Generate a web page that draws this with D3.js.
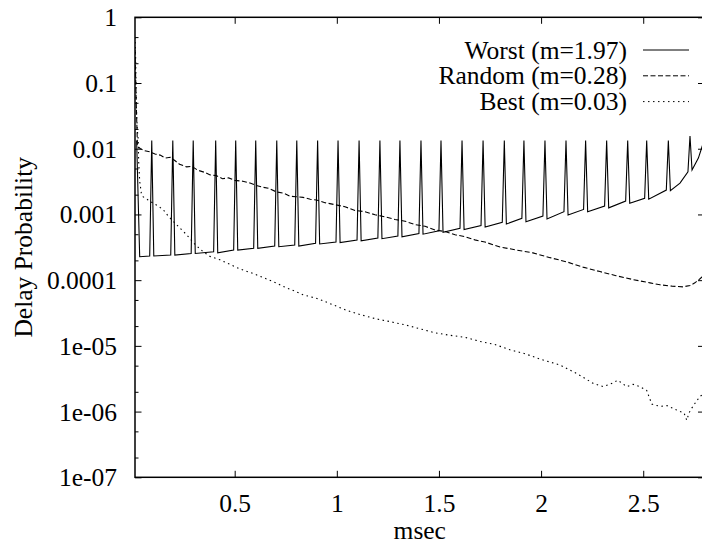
<!DOCTYPE html>
<html>
<head>
<meta charset="utf-8">
<script src="https://cdn.jsdelivr.net/npm/d3@7"></script>
<style>
  body { margin: 0; background: #fff; }
  text { font-family: "Liberation Serif", "Times New Roman", serif; font-size: 25.5px; fill: #000; }
</style>
</head>
<body>
<svg class="chart-svg"></svg>
<script>
const WIDTH = 702;
const HEIGHT = 544;
const PLOT = { left: 135, top: 17.3, right: 704.5, bottom: 477.3 };
const FONT = '"Liberation Serif", "Times New Roman", serif';

const X_DOMAIN = [0.012, 2.8];
const Y_DOMAIN = [1e-7, 1];
const xTicks = [0.5, 1, 1.5, 2, 2.5];
const yTicks = [1, 0.1, 0.01, 0.001, 0.0001, 1e-5, 1e-6, 1e-7];
const yTickLabels = ["1", "0.1", "0.01", "0.001", "0.0001", "1e-05", "1e-06", "1e-07"];
const yMinorTicks = [
  0.5, 0.2, 0.05, 0.02, 0.005, 0.002, 5e-4, 2e-4,
  5e-5, 2e-5, 5e-6, 2e-6, 5e-7, 2e-7
];
const legendLabels = ["Worst (m=1.97)", "Random (m=0.28)", "Best (m=0.03)"];
const dashes = [null, "5,2.5", "1.5,3.5"];

// [msec, probability]
const worst = [
  [0.020, 0.0133], [0.035, 2.27e-4], [0.084, 2.33e-4], [0.094, 0.0133],
  [0.104, 2.33e-4], [0.187, 2.41e-4], [0.197, 0.0133],
  [0.207, 2.41e-4], [0.287, 2.55e-4], [0.297, 0.0133],
  [0.307, 2.55e-4], [0.397, 2.71e-4], [0.407, 0.0133],
  [0.417, 2.61e-4], [0.495, 2.87e-4], [0.505, 0.0133],
  [0.515, 2.87e-4], [0.593, 3.05e-4], [0.603, 0.0133],
  [0.613, 3.05e-4], [0.696, 3.30e-4], [0.706, 0.0133],
  [0.716, 3.23e-4], [0.794, 3.42e-4], [0.804, 0.0133],
  [0.814, 3.30e-4], [0.896, 3.63e-4], [0.906, 0.0133],
  [0.916, 3.55e-4], [0.996, 3.80e-4], [1.006, 0.0133],
  [1.016, 3.72e-4], [1.099, 4.07e-4], [1.109, 0.0133],
  [1.119, 3.98e-4], [1.201, 4.37e-4], [1.211, 0.0133],
  [1.221, 4.27e-4], [1.299, 4.68e-4], [1.309, 0.0133],
  [1.319, 4.57e-4], [1.402, 5.13e-4], [1.412, 0.0133],
  [1.422, 5.01e-4], [1.500, 5.62e-4], [1.510, 0.0133],
  [1.520, 5.37e-4], [1.603, 6.17e-4], [1.613, 0.0133],
  [1.623, 5.89e-4], [1.706, 6.76e-4], [1.716, 0.0133],
  [1.726, 6.46e-4], [1.810, 7.59e-4], [1.820, 0.0133],
  [1.830, 7.14e-4], [1.906, 8.71e-4], [1.916, 0.0133],
  [1.926, 7.74e-4], [2.009, 9.46e-4], [2.019, 0.0133],
  [2.029, 8.51e-4], [2.112, 1.10e-3], [2.122, 0.0133],
  [2.132, 9.79e-4], [2.208, 1.19e-3], [2.218, 0.0133],
  [2.228, 1.10e-3], [2.311, 1.34e-3], [2.321, 0.0133],
  [2.331, 1.26e-3], [2.414, 1.60e-3], [2.424, 0.0133],
  [2.434, 1.48e-3], [2.507, 1.76e-3], [2.517, 0.0133],
  [2.527, 1.71e-3], [2.613, 2.35e-3], [2.623, 0.0133],
  [2.633, 2.30e-3], [2.680, 3.0e-3], [2.719, 4.47e-3], [2.729, 0.0156],
  [2.739, 4.74e-3], [2.770, 7.2e-3], [2.800, 0.014]
];

const random = [
  [0.012, 0.32], [0.018, 0.05], [0.024, 0.011], [0.037, 0.0101], [0.060, 0.0093],
  [0.085, 0.0090], [0.110, 0.0083], [0.135, 0.0080], [0.160, 0.0072], [0.185, 0.0074],
  [0.210, 0.0065], [0.230, 0.0058], [0.265, 0.0053], [0.290, 0.0054], [0.320, 0.0047],
  [0.350, 0.0044], [0.380, 0.0040], [0.410, 0.0039], [0.440, 0.0035], [0.470, 0.0036],
  [0.500, 0.0033], [0.540, 0.0032], [0.575, 0.0030], [0.600, 0.0028], [0.635, 0.0026],
  [0.665, 0.0025], [0.705, 0.0022], [0.740, 0.0021], [0.770, 0.0019], [0.800, 0.00186],
  [0.835, 0.00182], [0.870, 0.0017], [0.900, 0.00166], [0.942, 0.00151], [0.991, 0.00141],
  [1.040, 0.00131], [1.089, 0.00115], [1.138, 0.00110], [1.187, 0.00099], [1.236, 0.00092],
  [1.285, 0.00084], [1.334, 0.00079], [1.383, 0.00070], [1.432, 0.00066], [1.481, 0.00058],
  [1.530, 0.00055], [1.579, 0.00049], [1.627, 0.00046], [1.676, 0.00041], [1.725, 0.00038],
  [1.799, 0.00032], [1.872, 0.00029], [1.960, 0.00026], [2.044, 0.00022], [2.125, 0.00019],
  [2.205, 0.000158], [2.288, 0.000135], [2.367, 0.000117], [2.450, 0.000102], [2.533, 0.000091],
  [2.582, 0.000085], [2.641, 0.000081], [2.695, 0.000079], [2.729, 0.000083], [2.753, 0.000091],
  [2.778, 0.000105], [2.800, 0.00012]
];

const best = [
  [0.012, 0.5], [0.015, 0.25], [0.017, 0.1], [0.019, 0.04], [0.023, 0.02],
  [0.028, 0.0135], [0.030, 0.0063], [0.035, 0.0032], [0.043, 0.0021], [0.051, 0.00186],
  [0.076, 0.00166], [0.102, 0.00148], [0.125, 0.00135], [0.151, 0.00117], [0.174, 0.00095],
  [0.200, 0.00078], [0.232, 0.00062], [0.265, 0.00049], [0.306, 0.00035], [0.346, 0.00027],
  [0.379, 0.00023], [0.428, 0.000204], [0.477, 0.000174], [0.526, 0.000148], [0.591, 0.000126],
  [0.648, 0.000107], [0.702, 0.000091], [0.755, 0.000076], [0.795, 0.000068], [0.834, 0.000060],
  [0.909, 0.000052], [0.967, 0.000044], [1.040, 0.0000355], [1.113, 0.000030], [1.187, 0.000026],
  [1.260, 0.0000234], [1.334, 0.0000209], [1.407, 0.0000182], [1.481, 0.0000158], [1.554, 0.0000145],
  [1.627, 0.0000135], [1.701, 0.0000117], [1.774, 0.0000105], [1.848, 0.0000087], [1.921, 0.0000076],
  [1.995, 0.0000063], [2.093, 0.0000051], [2.174, 0.0000038], [2.254, 0.0000027], [2.303, 0.0000024],
  [2.337, 0.0000026], [2.376, 0.0000030], [2.419, 0.0000024], [2.450, 0.0000026], [2.484, 0.0000024],
  [2.517, 0.0000021], [2.542, 0.0000013], [2.582, 0.0000012], [2.617, 0.00000123], [2.646, 0.00000112],
  [2.680, 0.0000010], [2.700, 0.00000095], [2.713, 0.00000074], [2.724, 0.00000095], [2.737, 0.00000112],
  [2.758, 0.0000014], [2.778, 0.0000017], [2.800, 0.0000019]
];

const series = [worst, random, best];

const svg = d3.select(".chart-svg")
  .attr("width", WIDTH)
  .attr("height", HEIGHT);

svg.append("rect")
  .attr("width", WIDTH)
  .attr("height", HEIGHT)
  .attr("fill", "#fff");

const xScale = d3.scaleLinear().domain(X_DOMAIN).range([PLOT.left, PLOT.right]);
const yScale = d3.scaleLog().domain(Y_DOMAIN).range([PLOT.bottom, PLOT.top]);

svg.append("defs")
  .append("clipPath")
  .attr("id", "plot-clip")
  .append("rect")
  .attr("x", PLOT.left)
  .attr("y", PLOT.top)
  .attr("width", PLOT.right - PLOT.left)
  .attr("height", PLOT.bottom - PLOT.top);

const styleAxis = g => {
  g.select(".domain").remove();
  g.selectAll(".tick line").attr("stroke", "#000").attr("stroke-width", 1);
  g.selectAll(".tick text")
    .attr("fill", "#000")
    .style("font-family", FONT)
    .style("font-size", "25.5px");
};

// bottom axis with labels
svg.append("g")
  .attr("transform", `translate(0, ${PLOT.bottom})`)
  .call(d3.axisBottom(xScale).tickValues(xTicks).tickSize(-6.5).tickPadding(17).tickFormat(d3.format("")))
  .call(styleAxis);

// top mirror ticks
svg.append("g")
  .attr("transform", `translate(0, ${PLOT.top})`)
  .call(d3.axisTop(xScale).tickValues(xTicks).tickSize(-6.5).tickFormat(""))
  .call(styleAxis);

// left axis
svg.append("g")
  .attr("transform", `translate(${PLOT.left}, 0)`)
  .call(d3.axisLeft(yScale).tickValues(yTicks).tickSize(-6.5).tickPadding(18)
    .tickFormat((d, i) => yTickLabels[i]))
  .call(styleAxis)
  .selectAll(".tick text")
  .attr("dy", "0.33em");

svg.append("g")
  .attr("transform", `translate(${PLOT.left}, 0)`)
  .call(d3.axisLeft(yScale).tickValues(yMinorTicks).tickSize(-3.5).tickFormat(""))
  .call(styleAxis);

// right mirror ticks
svg.append("g")
  .attr("transform", `translate(${PLOT.right}, 0)`)
  .call(d3.axisRight(yScale).tickValues(yTicks).tickSize(-6.5).tickFormat(""))
  .call(styleAxis);

const line = d3.line()
  .x(d => xScale(d[0]))
  .y(d => yScale(d[1]));

svg.append("g")
  .attr("clip-path", "url(#plot-clip)")
  .selectAll("path")
  .data(series)
  .enter()
  .append("path")
  .attr("d", line)
  .attr("fill", "none")
  .attr("stroke", "#000")
  .attr("stroke-width", 1.1)
  .attr("stroke-linejoin", "miter")
  .attr("stroke-dasharray", (d, i) => dashes[i]);

// frame
svg.append("rect")
  .attr("x", PLOT.left)
  .attr("y", PLOT.top)
  .attr("width", PLOT.right - PLOT.left)
  .attr("height", PLOT.bottom - PLOT.top)
  .attr("fill", "none")
  .attr("stroke", "#000")
  .attr("stroke-width", 1.5);

// legend
const legend = svg.append("g").attr("class", "legend");
legendLabels.forEach((label, i) => {
  const y = 58.5 + i * 25.8;
  legend.append("text")
    .attr("x", 627)
    .attr("y", y)
    .attr("text-anchor", "end")
    .text(label);
  legend.append("line")
    .attr("x1", 643)
    .attr("x2", 689)
    .attr("y1", y - 8.5)
    .attr("y2", y - 8.5)
    .attr("stroke", "#000")
    .attr("stroke-width", 1)
    .attr("stroke-dasharray", dashes[i]);
});

// axis titles
svg.append("text")
  .attr("x", (PLOT.left + PLOT.right) / 2)
  .attr("y", 538.5)
  .attr("text-anchor", "middle")
  .text("msec");

svg.append("text")
  .attr("transform", `translate(32, ${(PLOT.top + PLOT.bottom) / 2}) rotate(-90)`)
  .attr("text-anchor", "middle")
  .text("Delay Probability");
</script>
</body>
</html>
